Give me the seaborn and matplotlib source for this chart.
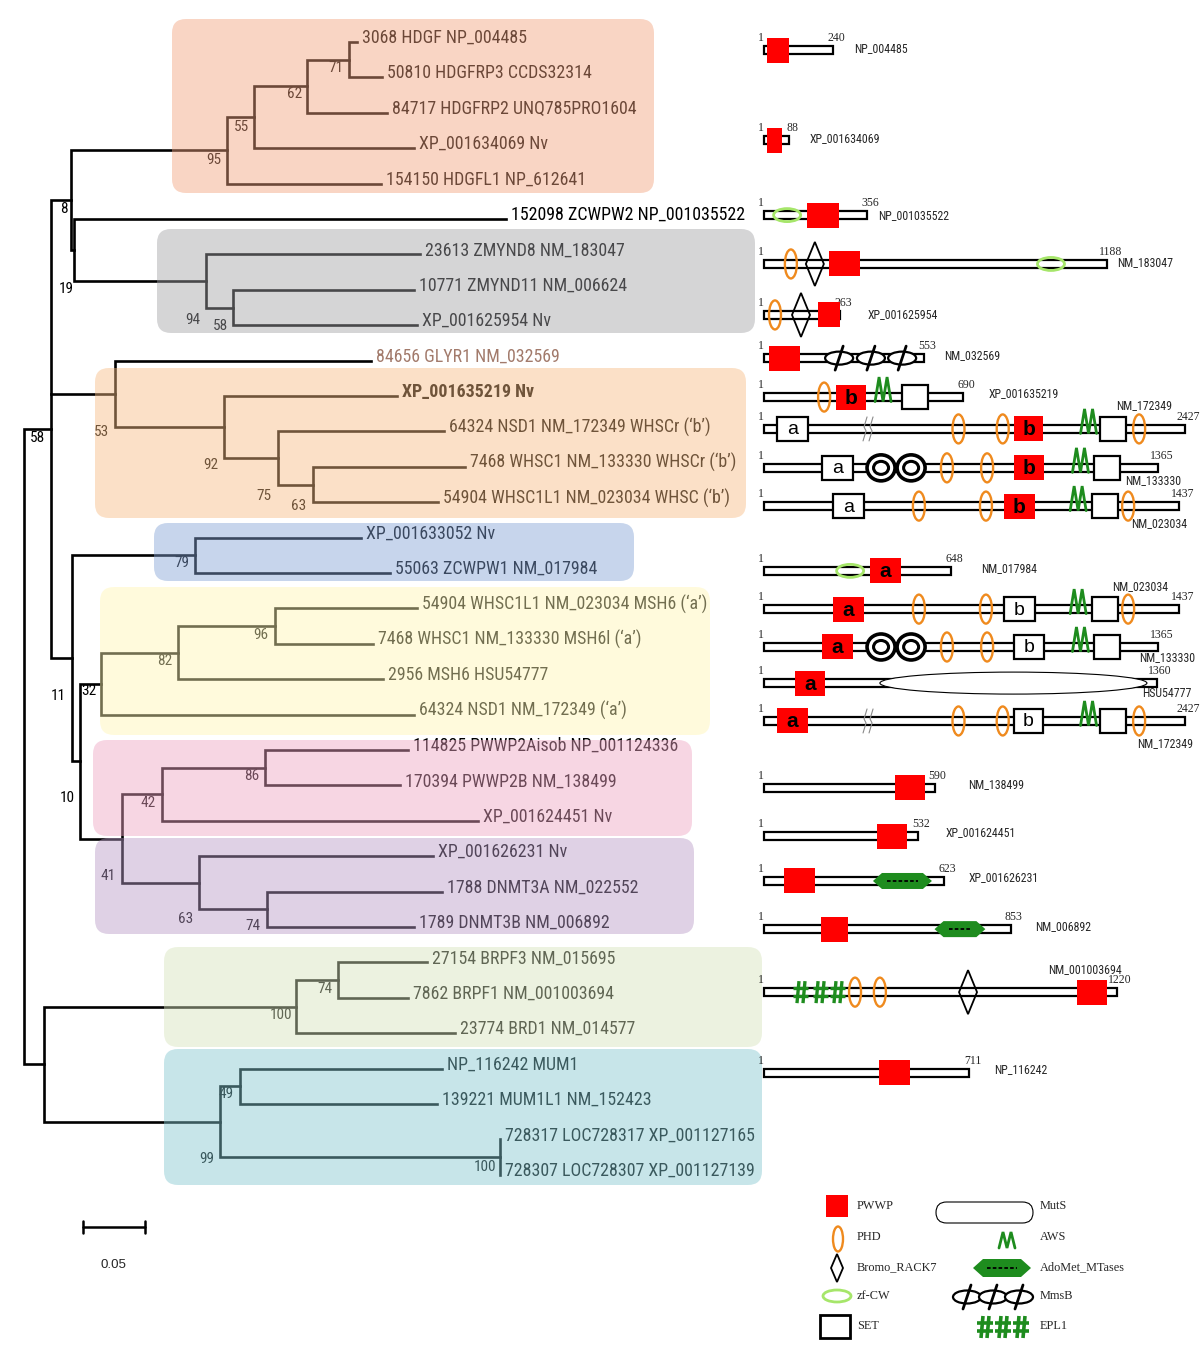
import numpy as np
import pandas as pd
import matplotlib
matplotlib.use("Agg")
import matplotlib.pyplot as plt
import seaborn as sns
from matplotlib import font_manager as fm
from matplotlib.patches import Rectangle, Ellipse, Polygon, FancyBboxPatch

# ============================ DATA ============================
# --- tree: leaves (top to bottom) and their distance from the root (subst./site)
LEAF_LABELS = [
    "3068 HDGF NP_004485", "50810 HDGFRP3 CCDS32314", "84717 HDGFRP2 UNQ785PRO1604",
    "XP_001634069 Nv", "154150 HDGFL1 NP_612641", "152098 ZCWPW2 NP_001035522",
    "23613 ZMYND8 NM_183047", "10771 ZMYND11 NM_006624", "XP_001625954 Nv",
    "84656 GLYR1 NM_032569", "XP_001635219 Nv", "64324 NSD1 NM_172349 WHSCr (\u2018b\u2019)",
    "7468 WHSC1 NM_133330 WHSCr (\u2018b\u2019)", "54904 WHSC1L1 NM_023034 WHSC (\u2018b\u2019)",
    "XP_001633052 Nv", "55063 ZCWPW1 NM_017984",
    "54904 WHSC1L1 NM_023034 MSH6 (\u2018a\u2019)", "7468 WHSC1 NM_133330 MSH6l (\u2018a\u2019)",
    "2956 MSH6 HSU54777", "64324 NSD1 NM_172349 (\u2018a\u2019)",
    "114825 PWWP2Aisob NP_001124336", "170394 PWWP2B NM_138499", "XP_001624451 Nv",
    "XP_001626231 Nv", "1788 DNMT3A NM_022552", "1789 DNMT3B NM_006892",
    "27154 BRPF3 NM_015695", "7862 BRPF1 NM_001003694", "23774 BRD1 NM_014577",
    "NP_116242 MUM1", "139221 MUM1L1 NM_152423",
    "728317 LOC728317 XP_001127165", "728307 LOC728307 XP_001127139",
]
LEAF_DEPTH = [0.2685, 0.2887, 0.2927, 0.3145, 0.2879, 0.3887, 0.3194, 0.3145, 0.3169,
              0.2798, 0.3008, 0.3387, 0.3556, 0.3339, 0.2718, 0.2952, 0.3169, 0.2815,
              0.2895, 0.3145, 0.3097, 0.3032, 0.3661, 0.3298, 0.3371, 0.3145, 0.3250,
              0.3097, 0.3476, 0.3371, 0.3331, 0.3839, 0.3839]

# --- tree: internal nodes
NODE_NAMES = ["n71", "n62", "n55", "n95", "n58z", "n94", "n19", "n8", "n63w", "n75",
              "n92", "n53", "n79", "n96", "n82", "n32", "n86", "n42", "n74d", "n63d",
              "n41", "n10", "n11", "n58", "n74b", "n100b", "n100m", "n49", "n99", "nB", "root"]
NODE_DEPTH = [0.2621, 0.2282, 0.1855, 0.1637, 0.1685, 0.1468, 0.0403, 0.0379, 0.2331, 0.2048,
              0.1613, 0.0734, 0.1379, 0.2024, 0.1242, 0.0621, 0.1944, 0.1113, 0.1960, 0.1411,
              0.0790, 0.0452, 0.0387, 0.0218, 0.2532, 0.2194, 0.3839, 0.1742, 0.1581, 0.0161, 0.0]
NODE_CHILDREN = [[0, 1], ["n71", 2], ["n62", 3], ["n55", 4], [7, 8], [6, "n58z"], [5, "n94"],
                 ["n95", "n19"], [12, 13], [11, "n63w"], [10, "n75"], [9, "n92"], [14, 15],
                 [16, 17], ["n96", 18], ["n82", 19], [20, 21], ["n86", 22], [24, 25],
                 [23, "n74d"], ["n42", "n63d"], ["n32", "n41"], ["n79", "n10"],
                 ["n8", "n53", "n11"], [26, 27], ["n74b", 28], [31, 32], [29, 30],
                 ["n49", "n100m"], ["n100b", "n99"], ["n58", "nB"]]
NODE_SUPPORT = [71, 62, 55, 95, 58, 94, 19, 8, 63, 75, 92, 53, 79, 96, 82, 32, 86, 42, 74, 63,
                41, 10, 11, 58, 74, 100, 100, 49, 99, None, None]

# --- domain architecture: proteins and lengths (aa)
PROT_ID = ["NP_004485", "XP_001634069", "NP_001035522", "NM_183047", "XP_001625954",
           "NM_032569", "XP_001635219", "NM_172349", "NM_133330", "NM_023034", "NM_017984",
           "NM_023034", "NM_133330", "HSU54777", "NM_172349", "NM_138499", "XP_001624451",
           "XP_001626231", "NM_006892", "NM_001003694", "NP_116242"]
PROT_LEN = [240, 88, 356, 1188, 263, 553, 690, 2427, 1365, 1437, 648, 1437, 1365, 1360, 2427,
            590, 532, 623, 853, 1220, 711]
# axis break for the long NSD1 drawings: (start aa, hidden aa)
BREAKS = {7: (360, 970), 14: (360, 970)}

# domains: (diagram, start, end[, letter])  or (diagram, centre)
PWWP_RED = [(0, 10, 85, ""), (1, 10, 62, ""), (2, 149, 260, ""), (3, 225, 332, ""),
            (4, 188, 262, ""), (5, 17, 125, ""), (6, 249, 353, "b"), (7, 1834, 1937, "b"),
            (8, 865, 969, "b"), (9, 830, 938, "b"), (10, 367, 474, "a"), (11, 239, 346, "a"),
            (12, 200, 308, "a"), (13, 107, 211, "a"), (14, 45, 152, "a"), (15, 453, 557, ""),
            (16, 391, 495, ""), (17, 69, 176, ""), (18, 198, 290, ""), (19, 1083, 1187, ""),
            (20, 398, 505, "")]
PWWP_OTHER = [(7, 45, 152, "a"), (8, 200, 308, "a"), (9, 239, 346, "a"), (11, 830, 938, "b"),
              (12, 865, 969, "b"), (14, 1834, 1937, "b")]
SET_DOM = [(6, 478, 567), (7, 2131, 2223), (8, 1142, 1232), (9, 1135, 1225), (11, 1135, 1225),
           (12, 1142, 1232), (14, 2131, 2223)]
PHD_SITE = [(3, 93), (4, 38), (6, 208), (7, 1643), (7, 1796), (7, 2268), (8, 633), (8, 772),
            (9, 536), (9, 768), (9, 1260), (11, 536), (11, 768), (11, 1260), (12, 633),
            (12, 772), (14, 1643), (14, 1796), (14, 2268), (19, 315), (19, 401)]
BROMO_SITE = [(3, 176), (4, 128), (19, 706)]
ZFCW_SITE = [(2, 80), (3, 993), (10, 298)]
AWS_SITE = [(6, 412), (7, 2093), (8, 1095), (9, 1087), (11, 1087), (12, 1095), (14, 2093)]
RING_SITE = [(8, 405), (8, 509), (12, 405), (12, 509)]
MMSB_SITE = [(5, 260), (5, 370), (5, 478)]
EPL1_SITE = [(19, 128), (19, 194), (19, 256)]
MUTS_DOM = [(13, 401, 1325)]
ADOMET_DOM = [(17, 377, 581), (18, 590, 766)]

LEGEND_LEFT = ["PWWP", "PHD", "Bromo_RACK7", "zf-CW", "SET"]
LEGEND_RIGHT = ["MutS", "AWS", "AdoMet_MTases", "MmsB", "EPL1"]
SCALE_LEN = 0.05

# ============================ LAYOUT / STYLE ============================
W, H = 1200, 1348
TREE_X0, PX_PER_UNIT = 24, 1240.0
ROW0, PX_PER_ROW = 42, 35.4
DOM_X0, PX_PER_AA = 764, 0.289

DIAG_ROW = [0.23, 2.77, 4.89, 6.27, 7.71, 8.93, 10.03, 10.93, 12.03, 13.11, 14.94, 16.02,
            17.09, 18.11, 19.18, 21.07, 22.43, 23.70, 25.06, 26.84, 29.12]
ID_OFFSET = [(21, -2, "left"), (20, -2, "left"), (11, 0, "left"), (10, -1, "left"),
             (28, 0, "left"), (20, -3, "left"), (25, -4, "left"), (-41, -23, "center"),
             (-5, 13, "center"), (-20, 17, "center"), (30, -2, "left"), (-39, -23, "center"),
             (9, 11, "center"), (10, 10, "center"), (-20, 23, "center"), (34, -3, "left"),
             (28, -3, "left"), (25, -3, "left"), (25, -3, "left"), (-32, -23, "center"),
             (25, -3, "left")]
BS_OFFSET = {"n71": (-13, 8), "n62": (-12, 8), "n55": (-13, 10), "n95": (-13, 10),
             "n58z": (-12, 18), "n94": (-13, 39), "n19": (-8, 39), "n8": (-7, 9),
             "n63w": (-14, 22), "n75": (-14, 38), "n92": (-13, 38), "n53": (-14, 38),
             "n79": (-13, 8), "n96": (-14, 9), "n82": (-13, 8), "n32": (-12, 7),
             "n86": (-13, 8), "n42": (-14, 9), "n74d": (-14, 17), "n63d": (-13, 36),
             "n41": (-14, 38), "n10": (-13, 37), "n11": (-14, 38), "n58": (-14, 9),
             "n74b": (-13, 9), "n100b": (-15, 8), "n100m": (-15, 10), "n49": (-14, 8),
             "n99": (-13, 37)}
# clade boxes (px): x0, y0, x1, y1, observed colour over white
CLADE_BOXES = [(172, 19, 654, 193, (249, 213, 197)), (157, 229, 755, 333, (213, 213, 215)),
               (95, 368, 746, 518, (252, 225, 199)), (154, 523, 634, 581, (199, 213, 236)),
               (100, 587, 710, 735, (255, 251, 221)), (93, 740, 692, 836, (248, 214, 228)),
               (95, 838, 694, 934, (223, 210, 230)), (164, 947, 762, 1047, (237, 243, 225)),
               (164, 1049, 762, 1185, (199, 230, 234))]
OVERLAY_ALPHA = 0.45

RED = "#FF0000"
ORANGE = "#EF8A1E"
LGREEN = "#A6E66A"
DGREEN = "#1E8C1E"
GLYR1_COLOR = "#A27A6B"

sns.set_theme(style="white")


def pick_sans():
    names = {f.name for f in fm.fontManager.ttflist}
    cands = [("Liberation Sans Narrow", "normal", (13, 11.5, 9)),
             ("Arial Narrow", "normal", (13, 11.5, 9)),
             ("Roboto Condensed", "normal", (12.9, 11, 8.6)),
             ("Open Sans Condensed", "normal", (12.6, 10.8, 8.4)),
             ("Noto Sans Condensed", "normal", (12.6, 10.8, 8.4))]
    for fam, st, sz in cands:
        if fam in names:
            return fam, st, sz
    for f in fm.fontManager.ttflist:
        if f.name in ("Noto Sans", "Roboto", "Open Sans") and str(f.stretch) == "condensed" \
                and f.style == "normal":
            return f.name, "condensed", (12.6, 10.8, 8.4)
    return "Liberation Sans", "normal", (10.8, 9.5, 7.4)


SANS_NAME, SANS_STRETCH, (LEAF_FS, BS_FS, ID_FS) = pick_sans()
SANS = [SANS_NAME, "DejaVu Sans"]
PLAIN = ["Liberation Sans", "DejaVu Sans"]
SERIF = ["Liberation Serif", "DejaVu Serif"]
plt.rcParams["font.family"] = SANS
plt.rcParams["font.stretch"] = SANS_STRETCH

fig = plt.figure(figsize=(W / 100, H / 100), dpi=100)
fig.patch.set_facecolor("white")
ax_tree = fig.add_axes([0, 0, 1, 1], label="tree")
ax_box = fig.add_axes([0, 0, 1, 1], label="boxes")
ax_dom = fig.add_axes([0, 0, 1, 1], label="domains")
for z, a in enumerate([ax_tree, ax_box, ax_dom]):
    a.set_zorder(z + 1)
    a.patch.set_visible(False)

# ============================ TREE ============================
node_idx = {n: i for i, n in enumerate(NODE_NAMES)}


def depth_of(c):
    return LEAF_DEPTH[c] if isinstance(c, int) else NODE_DEPTH[node_idx[c]]


def row_of(c):
    if isinstance(c, int):
        return float(c)
    rs = [row_of(k) for k in NODE_CHILDREN[node_idx[c]]]
    return (min(rs) + max(rs)) / 2.0


segs = []
sid = 0
for name, ch in zip(NODE_NAMES, NODE_CHILDREN):
    nd = depth_of(name)
    rows = [row_of(k) for k in ch]
    ds = [depth_of(k) for k in ch]
    order = list(np.argsort(rows))
    f, l = order[0], order[-1]
    for x, y in [(ds[f], rows[f]), (nd, rows[f]), (nd, rows[l]), (ds[l], rows[l])]:
        segs.append((sid, x, y))
    sid += 1
    for k in order[1:-1]:
        segs.append((sid, nd, rows[k]))
        segs.append((sid, ds[k], rows[k]))
        sid += 1
seg_df = pd.DataFrame(segs, columns=["seg", "x", "y"])
sns.lineplot(data=seg_df, x="x", y="y", units="seg", estimator=None, sort=False,
             color="black", linewidth=1.9, legend=False, ax=ax_tree,
             solid_joinstyle="miter", solid_capstyle="projecting")

for i, lab in enumerate(LEAF_LABELS):
    ax_tree.annotate(lab, (LEAF_DEPTH[i], i), xytext=(5, 4), textcoords="offset pixels",
                     ha="left", va="center", fontsize=LEAF_FS,
                     color=GLYR1_COLOR if i == 9 else "black",
                     fontweight="bold" if i == 10 else "normal")

for name, sup in zip(NODE_NAMES, NODE_SUPPORT):
    if sup is None:
        continue
    dx, dy = BS_OFFSET[name]
    ax_tree.annotate(str(sup), (depth_of(name), row_of(name)), xytext=(dx, -dy),
                     textcoords="offset pixels", ha="center", va="center",
                     fontsize=BS_FS, color="black")

# scale bar
sb_x = (83 - TREE_X0) / PX_PER_UNIT
sb_r = (1227 - ROW0) / PX_PER_ROW
tk = 6 / PX_PER_ROW
ax_tree.plot([sb_x, sb_x + SCALE_LEN], [sb_r, sb_r], color="black", lw=1.8)
for xx in (sb_x, sb_x + SCALE_LEN):
    ax_tree.plot([xx, xx], [sb_r - tk, sb_r + tk], color="black", lw=1.8)
ax_tree.text(sb_x + SCALE_LEN / 2, sb_r + 38 / PX_PER_ROW, f"{SCALE_LEN:.2f}", ha="center",
             va="center", fontsize=9.6, family=PLAIN, fontstretch="normal")

ax_tree.set_xlim(-TREE_X0 / PX_PER_UNIT, (W - TREE_X0) / PX_PER_UNIT)
ax_tree.set_ylim((H - ROW0) / PX_PER_ROW, -ROW0 / PX_PER_ROW)

# ============================ CLADE BOXES ============================
ax_box.set_xlim(0, W)
ax_box.set_ylim(H, 0)
for x0, y0, x1, y1, obs in CLADE_BOXES:
    base = [min(1.0, max(0.0, (c - (1 - OVERLAY_ALPHA) * 255) / OVERLAY_ALPHA / 255)) for c in obs]
    ax_box.add_patch(FancyBboxPatch((x0, y0), x1 - x0, y1 - y0,
                                    boxstyle="round,pad=0,rounding_size=14",
                                    fc=base, ec="none", alpha=OVERLAY_ALPHA, zorder=1))


# ============================ DOMAIN SHAPES ============================
def red_box(ax, x0, x1, y, ky, letter=""):
    ax.add_patch(Rectangle((x0, y - 12.5 * ky), x1 - x0, 25 * ky, fc=RED, ec="none", zorder=5))
    if letter:
        ax.text((x0 + x1) / 2, y + 1 * ky, letter, ha="center", va="center", fontsize=15,
                fontweight="bold", family=PLAIN, fontstretch="normal", color="black", zorder=6)


def white_box(ax, x0, x1, y, ky, letter=""):
    ax.add_patch(Rectangle((x0, y - 12 * ky), x1 - x0, 24 * ky, fc="white", ec="black",
                           lw=1.6, zorder=5))
    if letter:
        ax.text((x0 + x1) / 2, y + 1 * ky, letter, ha="center", va="center", fontsize=14,
                family=PLAIN, fontstretch="normal", color="black", zorder=6)


def phd(ax, xc, y, kx, ky, w=12, h=29):
    ax.add_patch(Ellipse((xc, y), w * kx, h * ky, fill=False, ec=ORANGE, lw=1.7, zorder=6))


def zfcw(ax, xc, y, kx, ky):
    ax.add_patch(Ellipse((xc, y), 27 * kx, 13 * ky, fill=False, ec=LGREEN, lw=2.0, zorder=6))


def bromo(ax, xc, y, kx, ky, w=18, h=44):
    ax.add_patch(Polygon([(xc - w / 2 * kx, y), (xc, y - h / 2 * ky), (xc + w / 2 * kx, y),
                          (xc, y + h / 2 * ky)], closed=True, fill=False, ec="black",
                         lw=1.3, zorder=6))


def aws(ax, xc, y, kx, ky, top=-20, bot=4.5):
    xs = xc + np.array([-8, -4, 0, 4, 8]) * kx
    ys = y + np.array([bot, top, bot, top, bot]) * ky
    ax.plot(xs, ys, color=DGREEN, lw=2.0, zorder=6, solid_joinstyle="miter")


def ring(ax, xc, y, kx, ky):
    ax.add_patch(Ellipse((xc, y), 28 * kx, 26 * ky, fc="white", ec="black", lw=2.6, zorder=6))
    ax.add_patch(Ellipse((xc, y), 15 * kx, 13 * ky, fill=False, ec="black", lw=2.2, zorder=7))


def mmsb(ax, xc, y, kx, ky):
    ax.add_patch(Ellipse((xc, y), 28 * kx, 13 * ky, fc="white", ec="black", lw=1.6, zorder=6))
    ax.plot([xc - 4 * kx, xc + 4 * kx], [y + 12 * ky, y - 12 * ky], color="black", lw=2.0,
            zorder=7)


def muts(ax, x0, x1, y, ky, h=22):
    ax.add_patch(Ellipse(((x0 + x1) / 2, y), x1 - x0, h * ky, fc="white", ec="black",
                         lw=0.8, zorder=6))


def adomet(ax, x0, x1, y, kx, ky, tip=9, hh=8):
    ax.add_patch(Polygon([(x0, y), (x0 + tip * kx, y - hh * ky), (x1 - tip * kx, y - hh * ky),
                          (x1, y), (x1 - tip * kx, y + hh * ky), (x0 + tip * kx, y + hh * ky)],
                         closed=True, fc=DGREEN, ec="none", zorder=6))
    ax.plot([x0 + 14 * kx, x1 - 14 * kx], [y, y], color="black", lw=1.3,
            linestyle=(0, (2, 1.2)), zorder=7)


def hash_glyph(ax, xc, y, kx, ky, w=15, h=22, lw=2.4):
    for off in (-3, 3):
        ax.plot([xc + (off - 1) * kx, xc + (off + 1) * kx], [y + h / 2 * ky, y - h / 2 * ky],
                color=DGREEN, lw=lw, zorder=6, solid_capstyle="butt")
    for off in (-4, 4):
        ax.plot([xc - w / 2 * kx, xc + w / 2 * kx], [y + off * ky, y + off * ky],
                color=DGREEN, lw=lw, zorder=6, solid_capstyle="butt")


def break_mark(ax, xc, y, kx, ky):
    for off in (-3, 3):
        xs = xc + (off + np.array([-2, 1, -1, 2])) * kx
        ys = y + np.array([12, 2, -2, -12]) * ky
        ax.plot(xs, ys, color="#8a8a8a", lw=0.8, zorder=6)


# ============================ DOMAIN DIAGRAMS ============================
ax_dom.set_xlim(-DOM_X0 / PX_PER_AA, (W - DOM_X0) / PX_PER_AA)
ax_dom.set_ylim(ax_tree.get_ylim())
KX, KY = 1 / PX_PER_AA, 1 / PX_PER_ROW


def disp(d, aa):
    if d in BREAKS:
        b, hid = BREAKS[d]
        if aa >= b + hid:
            return aa - hid
        if aa > b:
            return b
    return aa


for d, (pid, L) in enumerate(zip(PROT_ID, PROT_LEN)):
    y = DIAG_ROW[d]
    Ld = disp(d, L)
    ax_dom.add_patch(Rectangle((0, y - 4 * KY), Ld, 8 * KY, fc="white", ec="black", lw=1.6,
                               zorder=3))
    ax_dom.annotate("1", (0, y), xytext=(-3, 12), textcoords="offset pixels", ha="center",
                    va="center", fontsize=8.5, family=SERIF, fontstretch="normal")
    ax_dom.annotate(str(L), (Ld, y), xytext=(3, 12), textcoords="offset pixels", ha="center",
                    va="center", fontsize=8.5, family=SERIF, fontstretch="normal")
    dx, dy, ha = ID_OFFSET[d]
    ax_dom.annotate(pid, (Ld, y), xytext=(dx, -dy), textcoords="offset pixels", ha=ha,
                    va="center", fontsize=ID_FS)
    if d in BREAKS:
        break_mark(ax_dom, BREAKS[d][0], y, KX, KY)

for d, s, e, let in PWWP_RED:
    red_box(ax_dom, disp(d, s), disp(d, e), DIAG_ROW[d], KY, let)
for d, s, e, let in PWWP_OTHER:
    white_box(ax_dom, disp(d, s), disp(d, e), DIAG_ROW[d], KY, let)
for d, s, e in SET_DOM:
    white_box(ax_dom, disp(d, s), disp(d, e), DIAG_ROW[d], KY)
for d, c in PHD_SITE:
    phd(ax_dom, disp(d, c), DIAG_ROW[d], KX, KY)
for d, c in BROMO_SITE:
    bromo(ax_dom, disp(d, c), DIAG_ROW[d], KX, KY)
for d, c in ZFCW_SITE:
    zfcw(ax_dom, disp(d, c), DIAG_ROW[d], KX, KY)
for d, c in AWS_SITE:
    aws(ax_dom, disp(d, c), DIAG_ROW[d], KX, KY)
for d, c in RING_SITE:
    ring(ax_dom, disp(d, c), DIAG_ROW[d], KX, KY)
for d, c in MMSB_SITE:
    mmsb(ax_dom, disp(d, c), DIAG_ROW[d], KX, KY)
for d, c in EPL1_SITE:
    hash_glyph(ax_dom, disp(d, c), DIAG_ROW[d], KX, KY)
for d, s, e in MUTS_DOM:
    muts(ax_dom, disp(d, s), disp(d, e), DIAG_ROW[d], KY)
for d, s, e in ADOMET_DOM:
    adomet(ax_dom, disp(d, s), disp(d, e), DIAG_ROW[d], KX, KY)

# ============================ LEGEND (pixel layout) ============================
LX_SYM, LX_TXT, RX_TXT = 837, 857, 1040
LY = [1206, 1237, 1267, 1296, 1326]
red_box(ax_box, 826, 848, LY[0], 22 / 25)
phd(ax_box, 838, LY[1] + 2, 1, 1, w=10, h=25)
bromo(ax_box, LX_SYM, LY[2] + 1, 1, 1, w=12, h=28)
ax_box.add_patch(Ellipse((LX_SYM, LY[3]), 28, 12, fill=False, ec=LGREEN, lw=2.0, zorder=6))
ax_box.add_patch(Rectangle((820, 1315), 30, 23, fc="white", ec="black", lw=2.0, zorder=6))
ax_box.add_patch(FancyBboxPatch((936, 1202), 97, 21, boxstyle="round,pad=0,rounding_size=10.5",
                                fc="white", ec="black", lw=0.8, zorder=6))
aws(ax_box, 1007, LY[1] + 5, 1, 1, top=-10, bot=6)
adomet(ax_box, 973, 1031, LY[2] + 1, 1, 1, tip=10, hh=9)
for xc in (967, 993, 1019):
    mmsb(ax_box, xc, LY[3] + 1, 1, 1)
for xc in (985, 1003, 1021):
    hash_glyph(ax_box, xc, LY[4] + 1, 1, 1, w=16, h=22, lw=2.6)
for lab, y in zip(LEGEND_LEFT, LY):
    ax_box.text(LX_TXT, y, lab, ha="left", va="center", fontsize=8.8, family=SERIF,
                fontstretch="normal")
for lab, y in zip(LEGEND_RIGHT, LY):
    ax_box.text(RX_TXT, y, lab, ha="left", va="center", fontsize=8.8, family=SERIF,
                fontstretch="normal")

for a in (ax_tree, ax_box, ax_dom):
    a.set_axis_off()

fig.savefig("out.png", dpi=100, facecolor="white")
